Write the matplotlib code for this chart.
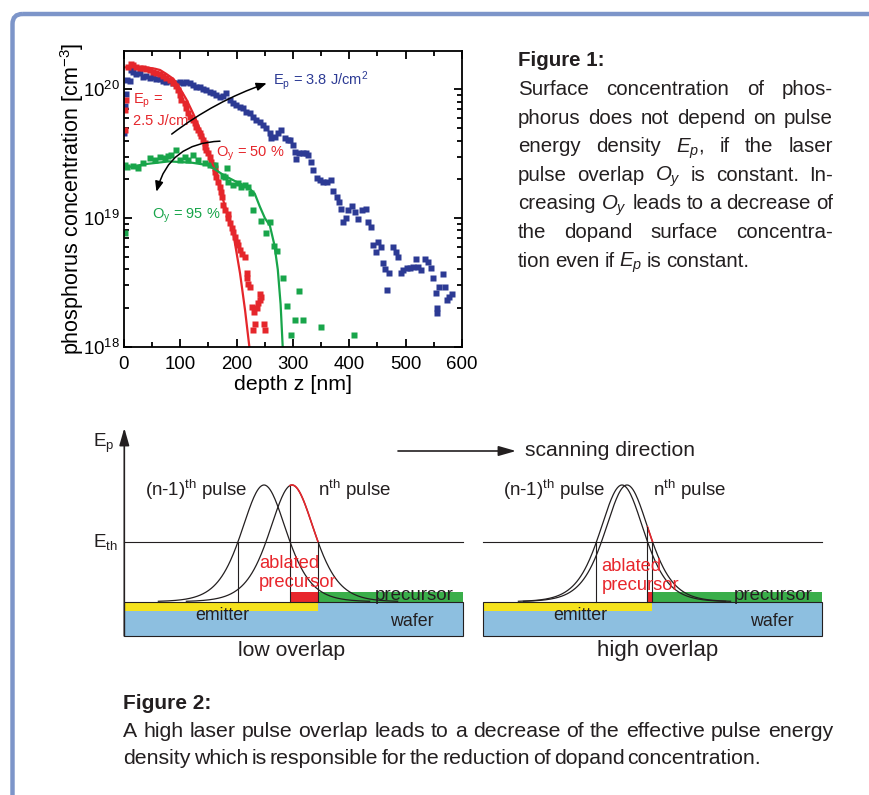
import numpy as np
import matplotlib
matplotlib.use('Agg')
import matplotlib.pyplot as plt
from matplotlib.patches import Rectangle, FancyBboxPatch
from matplotlib.ticker import MultipleLocator, LogLocator, NullFormatter

plt.rcParams['font.family'] = ['Liberation Sans', 'DejaVu Sans']
plt.rcParams['mathtext.fontset'] = 'custom'
plt.rcParams['mathtext.rm'] = 'Liberation Sans'
plt.rcParams['mathtext.it'] = 'Liberation Sans:italic'
plt.rcParams['mathtext.bf'] = 'Liberation Sans:bold'
plt.rcParams['mathtext.sf'] = 'Liberation Sans'

# depth z [nm] and log10 of concentration [cm^-3]
blue_z = [0.5, 1.5, 3, 5, 10, 12,
          16, 21.9, 27.8, 33.7, 39.6, 45.6, 51.5, 57.4, 63.3, 69.2,
          75.1, 81.1, 87, 92.9, 98.8, 104.7, 110.7, 116.6, 122.5, 128.4,
          134.3, 140.2, 146.2, 152.1, 158, 163.9, 169.8, 175.7, 181.7, 187.6,
          193.5, 199.4, 205.3, 211.2, 217.2, 223.1, 229, 234.9, 240.8, 246.7,
          252.7, 258.6, 261.5, 267.5, 273.4, 279.3, 285.2, 291.1,
          294.7, 299.4, 303.6, 305.3, 311.2, 317.2, 323.1, 327.2, 331.4, 336.1,
          342, 347.9, 353.8, 360.9, 366.9, 371.6, 377.5, 382.2, 384.6, 389.3,
          394.1, 398.2, 404.1, 410.1, 416, 421.9, 429.6, 433.7, 437.9, 442.6,
          447.3, 451.5, 455.6, 459.2, 463.3, 466.3, 470.4, 477.5, 482.2, 486.4,
          491.1, 495.9, 501.8, 507.7, 513.6, 518.3, 522.5, 526.6, 534.3, 540.2,
          544.4, 549.1, 553.3, 556.2, 555, 559.8, 565.7, 569.8, 574, 577.5, 581.7]
blue_exp = [19.66, 19.87, 19.96, 20.07, 20.067, 20.15,
            20.137, 20.119, 20.129, 20.098, 20.103, 20.085, 20.093, 20.078, 20.078, 20.067,
            20.059, 20.067, 20.046, 20.052, 20.059, 20.046, 20.059, 20.046, 20.033, 20.020,
            20.015, 20.0, 19.995, 19.982, 19.969, 19.956, 19.943, 19.948, 19.969, 19.917,
            19.891, 19.878, 19.865, 19.852, 19.826, 19.813, 19.787, 19.761, 19.748, 19.722,
            19.696, 19.658, 19.619, 19.626, 19.658, 19.684, 19.619, 19.606,
            19.606, 19.567, 19.515, 19.456, 19.502, 19.507, 19.502, 19.489, 19.437, 19.373,
            19.308, 19.295, 19.282, 19.282, 19.295, 19.212, 19.165, 19.126, 19.067, 18.971,
            18.997, 19.062, 19.093, 19.049, 18.989, 19.062, 19.067, 18.971, 18.932, 18.790,
            18.737, 18.815, 18.777, 18.652, 18.600, 18.439, 18.569, 18.777, 18.737, 18.698,
            18.574, 18.595, 18.608, 18.608, 18.621, 18.678, 18.621, 18.595, 18.678, 18.660,
            18.608, 18.530, 18.419, 18.297, 18.263, 18.465, 18.564, 18.465, 18.361, 18.387, 18.408]

red_z = [1, 2.5, 4, 7, 11.8, 16, 21.9, 27.8, 33.7, 39.6,
         45.6, 51.5, 57.4, 63.3, 69.2, 75.1, 81.1, 87, 92.9, 95.9,
         98.8, 101.8, 107.7, 110.7, 113.6, 116.6, 122.5, 125.4, 128.4, 131.4,
         134.3, 137.3, 140.2, 143.2, 144.4, 146.2, 149.1, 152.1, 155, 158,
         160.9, 162.1, 163.9, 166.9, 169.8, 172.8, 174, 176, 179.3, 185,
         185, 188, 191, 194, 197, 200, 203, 206, 209, 215,
         218, 218, 221, 224, 227, 229.6, 230, 232.6, 236, 238,
         241, 241, 244, 248.5, 250]
red_exp = [19.68, 19.84, 19.92, 20.17, 20.197, 20.189, 20.176, 20.163, 20.163, 20.155,
           20.150, 20.137, 20.129, 20.119, 20.103, 20.085, 20.072, 20.046, 20.026, 19.995,
           19.956, 19.917, 19.891, 19.852, 19.813, 19.787, 19.761, 19.735, 19.709, 19.684,
           19.658, 19.637, 19.606, 19.580, 19.554, 19.528, 19.502, 19.476, 19.437, 19.411,
           19.385, 19.359, 19.320, 19.282, 19.243, 19.204, 19.165, 19.10, 19.06, 19.035,
           19.0, 18.96, 18.92, 18.89, 18.85, 18.81, 18.79, 18.75, 18.72, 18.70,
           18.57, 18.53, 18.49, 18.465, 18.31, 18.13, 18.27, 18.18, 18.30, 18.34,
           18.36, 18.41, 18.39, 18.18, 18.13]

green_z = [1, 2, 5.9, 16, 24.9, 33.7, 45.6, 54.4, 63.3, 72.2,
           78.1, 84, 92.9, 98.8, 107.7, 113.6, 122.5, 131.4, 143.2, 152.1,
           160.9, 176, 178.7, 182, 184.6, 193.5, 202.4, 208.3, 214.2, 220.1,
           226, 228.4, 242.6, 252, 259, 266, 272, 281.7, 288.8, 296.5,
           303.5, 311, 318, 349.7, 408.8]
green_exp = [18.88, 19.41, 19.394, 19.404, 19.391, 19.425, 19.463, 19.451, 19.476, 19.463,
             19.481, 19.489, 19.528, 19.451, 19.476, 19.451, 19.489, 19.451, 19.425, 19.411,
             19.411, 19.33, 19.320, 19.385, 19.282, 19.256, 19.269, 19.243, 19.256, 19.243,
             19.191, 19.06, 18.98, 18.88, 18.97, 18.78, 18.74, 18.53, 18.32, 18.09,
             18.21, 18.43, 18.21, 18.15, 18.09]

# fitted profiles
red_fit_z = [0, 20, 40, 55, 64, 75, 88, 99, 111, 123, 141, 159, 176, 194, 206, 215, 222.5]
red_fit_exp = [20.17, 20.175, 20.17, 20.16, 20.15, 20.12, 20.08, 20.01, 19.92, 19.81,
               19.63, 19.40, 19.14, 18.88, 18.57, 18.28, 18.0]
green_fit_z = [0, 40, 80, 120, 150, 178, 200, 220, 232, 241, 250, 259, 267, 273, 278, 281.7]
green_fit_exp = [19.39, 19.42, 19.44, 19.43, 19.41, 19.33, 19.28, 19.24, 19.19, 19.09,
                 19.00, 18.94, 18.79, 18.60, 18.33, 18.0]

BLUE = '#2c3a94'
RED = '#e5262b'
GREEN = '#18a54a'
INK = '#231f20'

fig = plt.figure(figsize=(8.7, 7.95), dpi=100)

# full-figure overlay in pixel coordinates (y downwards) for the text and the sketch
bg = fig.add_axes([0, 0, 1, 1])
bg.set_xlim(0, 870)
bg.set_ylim(795, 0)
bg.axis('off')

bg.add_patch(FancyBboxPatch((12.5, 14), 950, 900, boxstyle='round,pad=0,rounding_size=10',
                            ec='#7d95c9', fc='none', lw=3.2))

# ---------- SIMS plot ----------
W, H = 870.0, 795.0
ax = fig.add_axes([124 / W, (H - 346.7) / H, (462 - 124) / W, (346.7 - 50.7) / H])
ax.set_yscale('log')

ax.plot(blue_z, 10 ** np.array(blue_exp), 's', ms=4.1, color=BLUE, mec='none')
ax.plot(red_z, 10 ** np.array(red_exp), 's', ms=4.0, color=RED, mec='none')
ax.plot(green_z, 10 ** np.array(green_exp), 's', ms=4.0, color=GREEN, mec='none')
ax.plot(red_fit_z, 10 ** np.array(red_fit_exp), color=RED, lw=1.6)
ax.plot(green_fit_z, 10 ** np.array(green_fit_exp), color=GREEN, lw=1.6)

ax.set_xlim(0, 600)
ax.set_ylim(1e18, 10 ** 20.30)
ax.xaxis.set_major_locator(MultipleLocator(100))
ax.xaxis.set_minor_locator(MultipleLocator(50))
ax.yaxis.set_major_locator(LogLocator(base=10, numticks=10))
ax.yaxis.set_minor_locator(LogLocator(base=10, subs=np.arange(2, 10), numticks=20))
ax.yaxis.set_minor_formatter(NullFormatter())
ax.tick_params(which='both', direction='in', top=True, right=True, width=1.3, labelsize=13.4)
ax.tick_params(which='major', length=6)
ax.tick_params(which='minor', length=3.5)
ax.tick_params(axis='x', pad=7)
ax.tick_params(axis='y', pad=3)
for s in ax.spines.values():
    s.set_linewidth(1.3)

ax.set_xlabel('depth z [nm]', fontsize=15.4, labelpad=1)
ax.set_ylabel('phosphorus concentration [cm$^{-3}$]', fontsize=15.5, labelpad=-2.5)

ax.text(264.5, 10 ** 20.033, r'E$_\mathrm{p}$ = 3.8 J/cm$^2$', color=BLUE, fontsize=10.5, va='baseline')
ax.text(15.4, 10 ** 19.886, r'E$_\mathrm{p}$ =', color=RED, fontsize=10.5, va='baseline')
ax.text(15.4, 10 ** 19.722, '2.5 J/cm', color=RED, fontsize=10.5, va='baseline', zorder=1)
ax.text(163.3, 10 ** 19.481, r'O$_\mathrm{y}$ = 50 %', color=RED, fontsize=10.5, va='baseline')
ax.text(49.2, 10 ** 18.999, r'O$_\mathrm{y}$ = 95 %', color=GREEN, fontsize=10.5, va='baseline')

arrow_kw = dict(arrowstyle='-|>,head_length=0.55,head_width=0.22', color='black', lw=1.1,
                shrinkA=0, shrinkB=0, mutation_scale=11)
ax.annotate('', xy=(253.3, 10 ** 20.047), xytext=(84.7, 10 ** 19.652),
            arrowprops=dict(connectionstyle='arc3,rad=-0.08', **arrow_kw))
ax.annotate('', xy=(57.6, 10 ** 19.204), xytext=(170.4, 10 ** 19.597),
            arrowprops=dict(connectionstyle='arc3,rad=0.37', **arrow_kw))

# ---------- captions ----------
renderer = fig.canvas.get_renderer()


def place_words(line, x0, y, size, x1=None, gap=None):
    words = line.split(' ')
    texts = [bg.text(0, y, w, fontsize=size, va='baseline', color=INK) for w in words]
    widths = [t.get_window_extent(renderer).width for t in texts]
    if gap is None:
        gap = max((x1 - x0 - sum(widths)) / (len(words) - 1), 2.5)
    x = x0
    for t, w in zip(texts, widths):
        t.set_x(x)
        x += w + gap
    return gap


fig1_lines = ['Surface concentration of phos-',
              'phorus does not depend on pulse',
              'energy density $E_p$, if the laser',
              'pulse overlap $O_y$ is constant. In-',
              'creasing $O_y$ leads to a decrease of',
              'the dopand surface concentra-',
              'tion even if $E_p$ is constant.']
bg.text(518, 66, 'Figure 1:', fontsize=14.8, fontweight='bold', va='baseline', color=INK)
for i, line in enumerate(fig1_lines):
    y = 95 + i * 28.6
    if i < len(fig1_lines) - 1:
        place_words(line, 518, y, 14.8, x1=833)
    else:
        place_words(line, 518, y, 14.8, gap=4.5)

bg.text(123, 709, 'Figure 2:', fontsize=15.0, fontweight='bold', va='baseline', color=INK)
place_words('A high laser pulse overlap leads to a decrease of the effective pulse energy',
            123, 737, 15.3, x1=833)
place_words('density which is responsible for the reduction of dopand concentration.',
            123, 764, 15.3, gap=3.2)

# ---------- pulse sketch ----------
WAFER = '#8dbfe0'
EMITTER = '#f5e21c'
PRECURSOR = '#3aae4a'
ABLATED = '#e8262c'

base_y, wafer_bottom, eth_y, peak_y = 601.7, 636.0, 541.7, 485.0
layer_h = 9.5
frac = (base_y - eth_y) / (base_y - peak_y)
shape_k = np.arccosh(1 / np.sqrt(frac))

panels = [
    dict(x0=124.3, x1=463.0, centers=(264.0, 292.0), hw=26.0,
         label='low overlap', lab_x=291.5, lab_size=15.3),
    dict(x0=483.3, x1=822.5, centers=(622.0, 627.0), hw=25.5,
         label='high overlap', lab_x=658.0, lab_size=16.0),
]


def pulse_y(x, c, a):
    return base_y - (base_y - peak_y) / np.cosh((x - c) / a) ** 2


for p in panels:
    x0, x1, hw = p['x0'], p['x1'], p['hw']
    c_prev, c_n = p['centers']
    a = hw / shape_k
    left_cross = c_prev - hw
    prev_right = c_prev + hw
    n_right = c_n + hw

    bg.add_patch(Rectangle((x0, base_y), x1 - x0, wafer_bottom - base_y, fc=WAFER, ec='none'))
    bg.add_patch(Rectangle((x0, base_y), n_right - x0, layer_h, fc=EMITTER, ec='none'))
    bg.add_patch(Rectangle((n_right, base_y - layer_h), x1 - n_right, layer_h, fc=PRECURSOR, ec='none'))
    bg.add_patch(Rectangle((prev_right, base_y - layer_h), n_right - prev_right, layer_h,
                           fc=ABLATED, ec='none'))
    bg.add_patch(Rectangle((x0, base_y), x1 - x0, wafer_bottom - base_y, fc='none', ec=INK, lw=0.8))

    bg.plot([x0, x1], [eth_y, eth_y], color=INK, lw=0.8)

    for c in (c_prev, c_n):
        xs = np.linspace(c - 3.5 * a, c + 3.5 * a, 300)
        bg.plot(xs, pulse_y(xs, c, a), color=INK, lw=0.9)
    xs = np.linspace(prev_right, n_right, 60)
    bg.plot(xs, pulse_y(xs, c_n, a), color=ABLATED, lw=1.2)

    bg.plot([left_cross, left_cross], [eth_y, base_y], color=INK, lw=0.8)
    bg.plot([prev_right, prev_right], [pulse_y(prev_right, c_n, a), base_y], color=INK, lw=0.8)
    bg.plot([n_right, n_right], [eth_y, base_y], color=INK, lw=0.8)

    bg.text(p['lab_x'], 656, p['label'], fontsize=p['lab_size'], ha='center', va='baseline', color=INK)

txt = dict(fontsize=13.5, va='baseline', color=INK)
small_txt = dict(fontsize=12.8, va='baseline', color=INK)
red_txt = dict(fontsize=13.2, va='baseline', color=ABLATED)
bg.text(145, 496.5, r'(n-1)$^\mathrm{th}$ pulse', **txt)
bg.text(318, 496.5, r'n$^\mathrm{th}$ pulse', **txt)
bg.text(259, 567.7, 'ablated', **red_txt)
bg.text(259, 586.7, 'precursor', **red_txt)
bg.text(375, 600, 'precursor', **txt)
bg.text(195, 620, 'emitter', **small_txt)
bg.text(390, 626.5, 'wafer', **small_txt)

bg.text(503.3, 496.5, r'(n-1)$^\mathrm{th}$ pulse', **txt)
bg.text(653.3, 496.5, r'n$^\mathrm{th}$ pulse', **txt)
bg.text(601.7, 570.7, 'ablated', **red_txt)
bg.text(601.7, 589.5, 'precursor', **red_txt)
bg.text(733.3, 600, 'precursor', **txt)
bg.text(553.3, 620, 'emitter', **small_txt)
bg.text(750, 626, 'wafer', **small_txt)

# energy axis and scanning direction
bg.annotate('', xy=(124.3, 428), xytext=(124.3, 636),
            arrowprops=dict(arrowstyle='-|>,head_length=1.05,head_width=0.3', color=INK,
                            lw=1.2, shrinkA=0, shrinkB=0, mutation_scale=10))
bg.text(93, 446.7, r'E$_\mathrm{p}$', fontsize=13.6, va='baseline', color=INK)
bg.text(93, 546.7, r'E$_\mathrm{th}$', fontsize=13.6, va='baseline', color=INK)

bg.annotate('', xy=(516, 451), xytext=(398, 451),
            arrowprops=dict(arrowstyle='-|>,head_length=1.05,head_width=0.3', color=INK,
                            lw=1.2, shrinkA=0, shrinkB=0, mutation_scale=10))
bg.text(525, 456, 'scanning direction', fontsize=15.2, va='baseline', color=INK)

fig.savefig('out.png', dpi=100)
